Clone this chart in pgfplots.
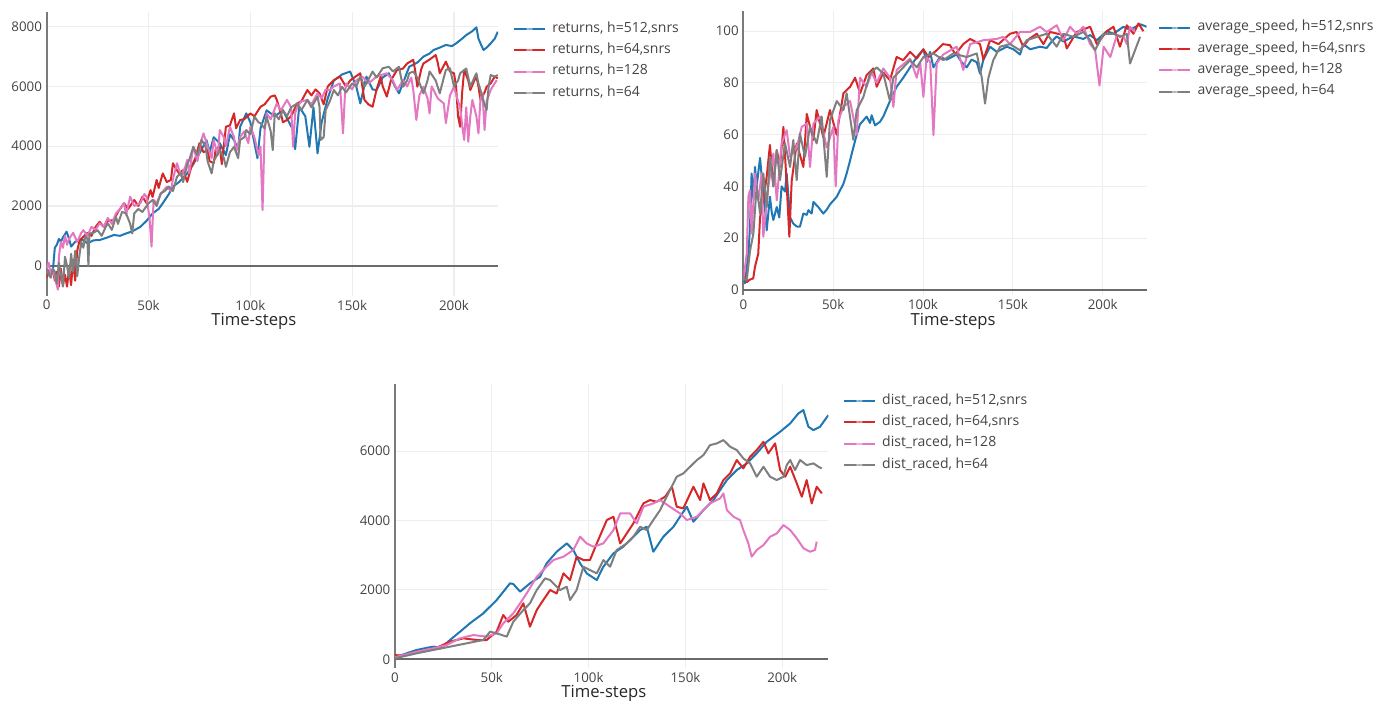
\documentclass[border=0pt]{standalone}
\usepackage{pgfplots}
\pgfplotsset{compat=1.18}
\usepackage{fontspec}
\setmainfont{Open Sans}
\definecolor{cB}{HTML}{1F77B4}
\definecolor{cR}{HTML}{D62728}
\definecolor{cP}{HTML}{E377C2}
\definecolor{cG}{HTML}{7F7F7F}
\definecolor{tickc}{HTML}{444444}
\definecolor{gridc}{HTML}{EEEEEE}
\definecolor{axc}{HTML}{7A7A7A}
\definecolor{zc}{HTML}{6A6A6A}
\pgfplotsset{
 myax/.style={
  scale only axis,
  anchor=south west,
  xmin=0,
  axis line style={draw=none},
  major tick length=0pt,
  grid=major,
  major grid style={color=gridc, line width=0.8pt},
  xtick={0,50,100,150,200},
  xticklabels={0,50k,100k,150k,200k},
  ticklabel style={font=\fontsize{10}{11}\selectfont, text=tickc},
  xticklabel style={text depth=0pt},
  /pgf/number format/assume math mode=true,
  /pgf/number format/1000 sep={},
  scaled ticks=false,
  extra x ticks={0}, extra x tick labels={},
  extra x tick style={grid=major, major grid style={color=axc, line width=1.5pt}},
  extra y ticks={0}, extra y tick labels={},
  extra y tick style={grid=major, major grid style={color=zc, line width=1.5pt}},
  xlabel={Time-steps},
  xlabel style={font=\fontsize{12.5}{14}\selectfont, text=black!85, anchor=center},
  legend style={draw=none, fill=none, inner sep=0pt, font=\fontsize{10.5}{12}\selectfont, text=tickc, anchor=north west, row sep=6pt, nodes={inner sep=0pt, text height=7.5pt, text depth=2.5pt}, /tikz/every odd column/.append style={column sep=5pt}},
  legend cell align=left,
  legend image code/.code={\draw[#1, line width=1.5pt] (0pt,0pt) -- (23pt,0pt); \fill[white, opacity=0.35] (11.6pt,0pt) circle (1.7pt);},
  every axis plot/.append style={line width=1.5pt, line join=round, no markers},
 }
}
\begin{document}
\begin{tikzpicture}
\path (0,0) rectangle (1035pt,-525pt);
% ---------------- returns
\begin{axis}[myax, at={(35pt,-221.7pt)}, width=338.5pt, height=212.9pt,
  xmax=221.6, ymin=-1000, ymax=8500, ytick={0,2000,4000,6000,8000},
  xlabel style={at={(axis description cs:0.459,-0.0895)}},
  legend style={at={(axis description cs:1.0326,0.964)}}]
\addplot[cB] table {
0 -100
2 -300
3 -200
4 600
5 700
6 900
7 800
8 950
9.8 1140
11 900
12 640
14 800
17 900
20 750
23 850
26 860
30 950
33 1030
36 1000
39 1080
42 1150
46 1300
49 1500
52 1750
55 1900
57 2090
60 2400
62 2650
65 2800
69 3090
72 3400
75 3760
78.5 4200
80 3800
82 4300
85 4100
88 3700
90 4400
92 4200
94 3900
95 4650
98 5100
100 4800
102 4100
103.5 3600
105 4600
108 5200
112 5000
116 5200
119 4800
121 4540
122 3900
124 5320
127 5000
129 3980
131 5300
133 3760
135 4800
138 5600
141 6200
145 6400
149 6500
152 6000
154 5430
157 6330
160 5900
162 5880
165 6300
168 6440
171 6000
173 5770
176 6300
178 6660
182 6800
185 7000
188 7100
190 7220
193 7300
196 7390
199 7350
201 7440
204 7600
206 7720
209 7850
211 7980
212 7600
213 7440
214.5 7220
216 7300
218 7440
220 7600
221.5 7830
};
\addlegendentry{returns, h=512,snrs}
\addplot[cR] table {
0 -400
1 -200
2 -300
3 -100
4 -500
5 -200
6 -700
7 -100
8 -650
9 -300
10 -700
11 -100
12 -650
13 200
14 -500
15 500
16 800
18 970
20 1100
22 1000
24 1300
26 1470
28 1300
30 1500
33 1530
35 1800
38 2090
40 1900
43 2200
45 2000
47 2310
49 2100
51 2530
52 2300
54 2870
55 2600
57 3090
59 2800
61 2870
62 3430
63 3300
65 3090
67 3200
69 2810
71 3300
73 3600
75 4100
77 3800
79 3870
80 3500
82 3430
83 3900
85 3980
86 3400
88 4650
90 4700
92 5100
93 4600
95 4880
97 4900
100 5100
102 5000
105 5320
107 5400
110 5660
112 5700
113 5550
115 5100
116 4800
118 4880
120 5000
123 5430
125 5500
128 5880
130 5700
132 5900
134 5770
136 5400
138 6000
141 6210
144 6330
146 6100
147 5990
149 6200
151 6300
154 6440
155 6000
156 5550
158 5400
160 5320
162 5900
164 6330
165 6000
167 5660
169 6200
172 6550
175 6600
177 6770
180 6890
181 6500
182 5990
184 6600
185 6770
188 6900
190 7000
191 7050
192 6800
193 6440
195 6700
196 6830
198 6500
200 6440
201 6000
202 5000
203 4650
204 5800
205 6550
207 6200
208 5880
210 6200
211 6330
212 6000
213 5550
215 5800
216 5990
218 6100
220 6330
221.5 6270
};
\addlegendentry{returns, h=64,snrs}
\addplot[cP] table {
0 -100
1 100
2 -300
3 -100
5.5 -800
6 300
7 800
8 600
9 1000
10 700
11 900
13 1100
15 800
17 1100
18 1190
20 1000
22 1300
24 1200
26 1420
28 1300
30 1600
32 1400
34 1750
36 1900
38 2100
39 1700
41 2310
43 2000
46 2090
48 2400
49 2310
50.5 1600
51.5 640
52.5 2200
54 2100
56 2400
59 2650
61 2500
62 2900
64 3430
66 3000
68 3300
69 3540
70 3100
72 3980
74 3500
76 4200
77 4430
79 4000
81 3600
82 4210
84 3700
85 4540
87 4300
88 4000
90 4650
92 4300
93 3800
95 4310
97 4500
99 4100
100 4650
102 4300
104 3700
105 3980
106 1860
107 4500
108 5100
110 4900
113 5430
115 5200
118 5550
120 5300
121 3980
122 5100
123 5320
125 5500
128 5550
130 5400
133 5770
135 5600
137 5900
139 5880
141 6000
144 6100
145.5 4430
146.5 5800
147 6100
150 5900
152 6200
155 6330
158 6100
162 6330
165 6400
167 6440
170 6200
172 5880
175 6210
177 6000
179 6300
180 5880
181.5 4880
183 5700
185 5990
187 5600
188 5100
189 6000
190 5880
192 5600
195 5430
196 4770
198 5700
200 5990
202 5500
203 5320
204 4700
205 4210
206 5300
207 4150
208 5000
209 5550
211 5000
212 4430
213 5600
214 5770
215 4540
216 5500
218 5880
219 6000
221 6210
};
\addlegendentry{returns, h=128}
\addplot[cG] table {
0 -100
1 -300
2 -400
3 -100
4 -200
5 -600
6 100
7 -300
8 -700
9 300
10 0
11 -400
12 400
13 -200
14 500
15 -350
16 300
17 800
18 600
19 1000
20 900
20.5 0
21 1080
23 1100
25 1190
27 1000
29 1300
30 1420
32 1200
34 1640
35 1400
37 1800
39 1750
41 1400
42 1080
43 1750
45 1900
47 1800
50 2090
52 2200
54 2000
56 2420
58 2500
60 2650
62 2500
64 2980
66 3100
67 2800
69 3400
70 3540
72 3980
74 3700
76 4210
78 4000
79 3500
81 3090
82 3500
85 3870
87 3600
88 3310
90 3800
92 3980
94 3600
95 4210
97 4300
98 4540
100 4400
102 4990
104 4800
105 4770
107 4600
108 4990
110 4500
111 3870
112 5100
114 4900
116 5210
118 5000
120 5300
123 5430
125 5200
128 5550
130 5300
133 5660
134 5300
134.5 4210
136 4300
137 5210
139 5500
141 5880
143 5700
145 5990
147 5800
150 6100
152 6000
154 6330
156 6000
157 6100
160 6500
162 6300
165 6610
168 6660
170 6500
173 6660
174 6300
175 5990
177 6200
178 6440
180 6500
182 6300
185 5770
187 6200
188 6500
190 6300
191 6200
193 5770
195 6300
196 6550
198 6610
199 6300
200 6000
202 6200
203 6440
206 6600
207 6300
208 5990
210 6300
211 6440
212 6100
213 5880
215 5400
216 5210
217 6000
218 6380
220 6330
221.5 6380
};
\addlegendentry{returns, h=64}
\end{axis}
% ---------------- average speed
\begin{axis}[myax, at={(557.5pt,-221.25pt)}, width=302.55pt, height=213pt,
  xmax=224.5, ymin=-2, ymax=107.8, ytick={0,20,40,60,80,100},
  xlabel style={at={(axis description cs:0.52,-0.0915)}},
  legend style={at={(axis description cs:1.028,0.966)}}]
\addplot[cB] table {
0 6
0.9 2.5
2.8 14
3.7 24
4.6 45
5.6 35
6.5 47.5
7.4 40
9.3 51
10.2 44
11.1 40
13 23
14.8 36
15.8 30
16.7 27
18.6 32
20 28
21.3 40
23.2 38
24.1 45
26 28
27.8 25.6
29.7 24.5
31.5 24.4
33.4 29.5
35.3 29
36.2 30.8
38 29.5
39 34
41.7 32
44.5 29.5
46.4 31
48.2 33
52 36
55.7 41
57.5 45
59.4 50
61.2 55
63.1 60
64.9 64
66.8 65.5
68.6 67
70.5 64.5
71.4 67.5
73.3 63.6
76.1 65
77.9 67
81.6 73
85.3 78.5
89 82
92.8 86
96.5 90
100.2 93
102 88
103.9 92
105.8 86
109.5 90
113.2 89
118.7 91
121.5 88
124.3 86
127 89
129.9 88
131.7 83.6
133.6 89
137.3 94
141 92
146.6 94
150.3 93
154 91
155.8 95
159.6 93
165.1 94
168.8 93.5
171.6 96
174.4 98
178.1 96
183.7 98
189.2 97
193 98.5
196.7 96.5
202.3 100
206 99
211.5 101.7
215.2 100.5
220.8 102.7
224.5 101.7
};
\addlegendentry{average\_speed, h=512,snrs}
\addplot[cR] table {
0 7
1.9 3
3.7 4
5.5 4.4
6.5 9
8.3 14
9.3 28
11.1 34.6
13 43.7
14.8 56
16.7 40
18.6 54
20.4 47.5
22.3 63
24.1 41
25.6 20.5
26.9 42
29.7 56.6
33.4 47.5
35.3 68
39 58
40.8 69.5
44.5 59
48.2 69.5
51.9 60
55.7 76
59.4 78.5
62.2 82
65 76
68.6 83
72.4 85.6
74.2 78.5
77.9 84
81.6 81
85.3 90
89 88.8
92.8 92
96.5 89.4
100.2 93
103 90
107.6 92.6
111 95
115 94.6
118 91
122.4 95
126.2 97
131.7 95
133.6 89
137.3 96.5
142 95
148.4 99
152.1 99.7
155.8 94
159 97
163.3 99
167 95
170.7 99.7
178.1 98.5
180 93.3
185.5 99.7
193 101.7
196.7 95
202.3 100
206 101.7
209.6 94
213.4 102.3
217.1 99
219.9 103
222.6 100
};
\addlegendentry{average\_speed, h=64,snrs}
\addplot[cP] table {
0 3.7
1.9 14
2.8 36
3.7 38.5
4.6 21.8
6.5 45
8.3 34.6
10.2 45
11.1 20.5
13.9 40
16.7 52.7
18.6 34.6
21.3 56.6
24.1 61.7
26 51.4
29.7 55
32.5 63
35.3 64.3
37.1 47.5
39 64.3
42.7 67
46.4 55
50.1 63
51.4 40
52.9 65.6
55.7 70.7
59.4 73
63.1 60
64.9 82
68.6 78.5
71.4 84
74.2 80
77.9 85.6
81.6 82
83.5 70.7
85.3 85
92.8 89.4
96.5 82
98.4 88
100.2 74.6
102 90
104 88
105.8 59.8
107.6 87.5
111.3 91
118.7 94
122.4 85
126.2 95
133.6 96.5
141 97
144.7 97.8
148.4 95
154 99.7
159.6 99.7
165.1 101.7
168.8 99.7
174.4 102.3
178.1 96.5
181.8 101.7
185.5 99
189.2 101.7
193 95
195.8 92.6
198.2 79
200.5 94
204.2 90
207.9 98.5
211.6 98
213.4 95
215.2 101.7
218 99.7
};
\addlegendentry{average\_speed, h=128}
\addplot[cG] table {
0 5
1.9 3.7
3.7 15
5.6 21.8
7.4 40
9.3 29.5
11.1 45
13 32
14.8 51.4
16.7 40
18.6 54
20.4 42.4
23.2 56.6
26 47.5
27.8 57.9
29.7 42.4
31.5 60.4
34.3 51.4
37.1 63
40.8 56.6
43.6 67
46.4 43.7
48.2 65.6
52 73
55.7 69.5
57.5 76
61.2 58
63.1 69.5
66.8 74.6
70.5 83.6
74.2 86
77.9 83.6
81.6 73
83.5 82
89 86
92.8 88.8
96.5 86
100.2 90
105.8 91.4
111.3 88.8
116.9 91.4
124.3 90
129.9 91.4
132.7 82
134.5 72
136.4 82
139.1 88.8
142.9 94
148.4 95
154 92.6
157.7 96.5
163.3 97.8
168.8 99
174.4 94
178.1 99
183.7 97.8
189.2 99.7
193 96.5
195.7 92.6
200.5 99
206 99
209.7 97.8
213.4 99
215.2 87.5
217.1 91
220.8 97.8
};
\addlegendentry{average\_speed, h=64}
\end{axis}
% ---------------- dist raced
\begin{axis}[myax, at={(296.25pt,-501pt)}, width=325pt, height=212.8pt,
  xmax=223.8, ymin=-250, ymax=7925, ytick={0,2000,4000,6000},
  xlabel style={at={(axis description cs:0.482,-0.0905)}},
  legend style={at={(axis description cs:1.033,0.966)}}]
\addplot[cB] table {
0 60
11.2 270
17.2 340
20.1 365
23.6 317
28.4 557
33.6 797
38.7 1037
45.6 1325
52.5 1709
59.4 2189
61.1 2170
64.6 1950
69.7 2189
74.9 2380
78.3 2765
83.5 3100
88.7 3340
92.1 3150
95.6 2765
99 2477
104.2 2285
107.6 2669
112.8 3053
117.9 3245
121.4 3437
126.6 3725
130 3820
133.4 3100
138.6 3533
143.8 3820
147.2 4109
150.7 4397
154.1 3965
159.3 4300
164.5 4589
167.9 4877
171.4 5165
176.5 5453
181.7 5645
186.8 5933
192 6269
198.9 6557
204.1 6797
208.3 7085
210.9 7181
213.5 6700
216.1 6605
219.5 6700
223.8 7037
};
\addlegendentry{dist\_raced, h=512,snrs}
\addplot[cR] table {
0 125
4.3 100
11.2 220
19.8 290
28.4 510
35.3 605
42.2 557
47.3 557
52.5 797
55.9 1277
58.5 1085
62.8 1277
66.3 1613
69.7 940
73.2 1421
76.6 1709
80.1 1997
83.5 1900
87 2477
90.4 2285
93.8 2957
97.3 2861
100.7 2861
104.2 3340
109.4 4013
112.8 4109
116.3 3340
119.7 3629
123.1 3917
128.3 4493
131.7 4589
135.2 4541
139.5 4685
143 4973
145.5 4397
148.9 4349
154.1 4973
157.6 4589
159.3 5069
162.7 4589
166.2 4781
169.6 5165
173.1 5357
176.5 5741
179.9 5501
183.4 5837
186.8 6029
190.3 6269
192.8 5933
196.3 6221
198.9 5453
201.5 5261
204.1 5549
207.5 5069
210.1 4685
212.6 5165
215.2 4493
217.8 4973
220.4 4781
};
\addlegendentry{dist\_raced, h=64,snrs}
\addplot[cP] table {
0 60
11.2 220
19.8 317
26.7 413
33.6 605
40.5 700
47.3 653
52.5 749
55.9 1037
61.1 1325
64.6 1613
68 1900
73.2 2380
78.3 2669
81.8 2861
87 2957
92.1 3150
95.6 3533
99 3340
102.5 3245
107.6 3340
112.8 3725
116.3 4205
121.4 4205
124.9 3917
128.3 4397
133.4 4493
136.9 4589
142 4397
147.2 4205
150.7 4013
155.9 4109
159.3 4300
162.7 4493
167.9 4637
169.6 4781
171.4 4300
174.8 4109
178.2 4013
179.9 3725
182.5 3340
184.2 2957
186.8 3150
190.3 3293
193.7 3533
197.2 3629
200.6 3869
204.1 3725
207.5 3485
211 3197
214.4 3100
216.9 3150
217.8 3390
};
\addlegendentry{dist\_raced, h=128}
\addplot[cG] table {
0 30
11.2 173
19.8 270
28.4 365
37 461
45.6 557
49.1 797
52.5 749
57.7 653
61.1 1085
66.3 1421
69.7 1613
73.2 1997
77.5 2333
80.1 2285
85.2 1997
88.7 2093
90.4 1709
93.8 1997
97.3 2669
100.7 2573
104.2 2477
107.6 2861
111.1 2669
114.5 3150
119.7 3340
123.1 3533
126.6 3820
130 3725
133.4 4013
136.9 4300
142 4877
145.5 5261
148.9 5357
152.4 5549
155.9 5741
159.3 5885
162.7 6173
166.2 6221
169.6 6317
173.1 6125
176.5 6029
179.9 5789
183.4 5645
186.8 5261
190.3 5549
193.7 5261
197.2 5165
200.6 5261
202.3 5597
204.1 5741
206.6 5453
209.2 5741
212.6 5597
216.1 5645
218.7 5549
220.4 5501
};
\addlegendentry{dist\_raced, h=64}
\end{axis}
\end{tikzpicture}
\end{document}
